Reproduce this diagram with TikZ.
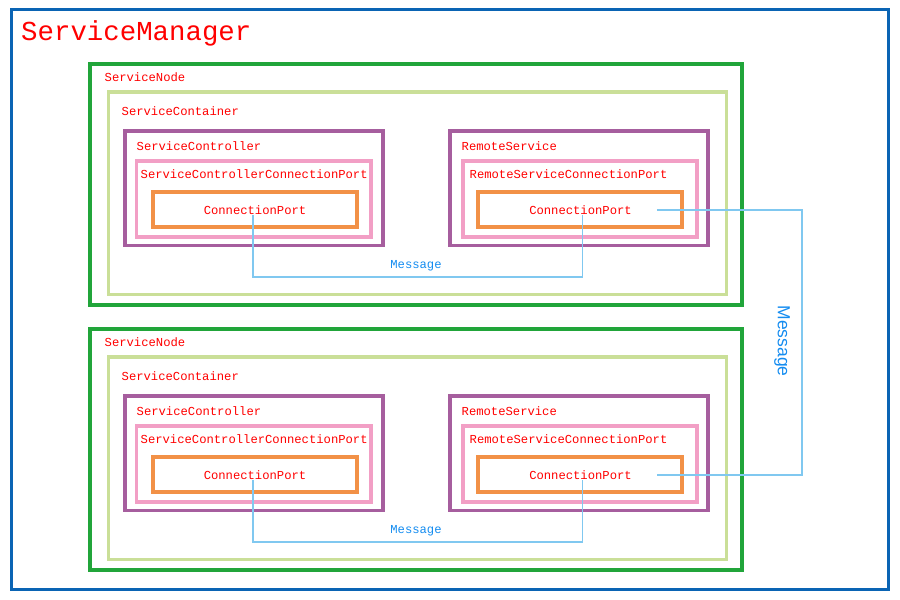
\documentclass[tikz,border=0pt]{standalone}
\usepackage{fontspec}
\setmonofont{Liberation Mono}
\newfontfamily\msgfont{Liberation Sans}
\usetikzlibrary{calc}

\definecolor{mgrblue}{RGB}{10,100,180}
\definecolor{nodegreen}{RGB}{33,165,58}
\definecolor{contgreen}{RGB}{202,223,152}
\definecolor{ctrlpurple}{RGB}{166,94,158}
\definecolor{portpink}{RGB}{242,159,197}
\definecolor{cporange}{RGB}{242,145,71}
\definecolor{wireblue}{RGB}{128,200,240}
\definecolor{msgblue}{RGB}{20,140,240}

\tikzset{
  frame/.style={draw, inner sep=0pt, outer sep=0pt, anchor=north west},
  mgrbox/.style={frame, draw=mgrblue, line width=3pt},
  nodebox/.style={frame, draw=nodegreen, line width=3.5pt},
  contbox/.style={frame, draw=contgreen, line width=3.5pt},
  ctrlbox/.style={frame, draw=ctrlpurple, line width=3.5pt},
  portbox/.style={frame, draw=portpink, line width=3.5pt},
  cpbox/.style={frame, draw=cporange, line width=4pt},
  lbl/.style={text=red, font=\ttfamily\fontsize{12.2}{12.2}\selectfont, inner sep=0pt, anchor=west},
  cplbl/.style={text=red, font=\ttfamily\fontsize{12.2}{12.2}\selectfont, inner sep=0pt},
  msglbl/.style={text=msgblue, font=\ttfamily\fontsize{12.2}{12.2}\selectfont, inner sep=0pt},
  wire/.style={draw=wireblue, line width=1.6pt},
}

\begin{document}
\begin{tikzpicture}[x=1pt,y=-1pt]
\useasboundingbox (0,0) rectangle (900,600);

% outer manager frame
\node[mgrbox, minimum width=877pt, minimum height=580pt] (mgr) at (11.5,9.5) {};
\node[text=red, font=\ttfamily\fontsize{27.4}{27.4}\selectfont, inner sep=0pt, anchor=west] (mgrlbl) at (21,33) {ServiceManager};

% two identical service nodes
\foreach \g/\dy in {A/0,B/265}{
  \node[nodebox, minimum width=652pt, minimum height=241pt] (node\g) at (90,64+\dy) {};
  \node[lbl] (nodelbl\g) at (104.5,77+\dy) {ServiceNode};

  \node[contbox, minimum width=618pt, minimum height=202.5pt] (cont\g) at (108.5,92+\dy) {};
  \node[lbl] (contlbl\g) at (121.5,111+\dy) {ServiceContainer};

  % service controller side
  \node[ctrlbox, minimum width=258pt, minimum height=114.5pt] (ctrl\g) at (125,131+\dy) {};
  \node[lbl] (ctrllbl\g) at (136.5,146+\dy) {ServiceController};
  \node[portbox, minimum width=234.5pt, minimum height=76pt] (cport\g) at (136.5,161+\dy) {};
  \node[lbl] (cportlbl\g) at (140.5,174+\dy) {ServiceControllerConnectionPort};
  \node[cpbox, minimum width=204pt, minimum height=35pt] (cbox\g) at (153,192+\dy) {};
  \node[cplbl] (cp\g) at (255,210+\dy) {ConnectionPort};

  % remote service side
  \node[ctrlbox, minimum width=258pt, minimum height=114.5pt] (rs\g) at (450,131+\dy) {};
  \node[lbl] (rslbl\g) at (461.5,146+\dy) {RemoteService};
  \node[portbox, minimum width=234pt, minimum height=76pt] (rport\g) at (463,161+\dy) {};
  \node[lbl] (rportlbl\g) at (469.5,174+\dy) {RemoteServiceConnectionPort};
  \node[cpbox, minimum width=204pt, minimum height=35pt] (rbox\g) at (478,192+\dy) {};
  \node[cplbl] (rp\g) at (580.5,210+\dy) {ConnectionPort};

  % local message between the two ports
  \node[msglbl] (msg\g) at (416,265.5+\dy) {Message};
  \coordinate (bus\g) at (416,277+\dy);
  \draw[wire] ([xshift=-2pt]cp\g.south) |- (bus\g) -| ([xshift=2pt]rp\g.south);
}

% message between the two remote services
\coordinate (loop) at (802,340);
\draw[wire] ([xshift=25pt]rpA.east) -| (loop) |- ([xshift=25pt]rpB.east);
\node[text=msgblue, font=\msgfont\fontsize{17.5}{17.5}\selectfont, inner sep=0pt, rotate=-90] (msgAB) at (782,341) {Message};

\end{tikzpicture}
\end{document}
